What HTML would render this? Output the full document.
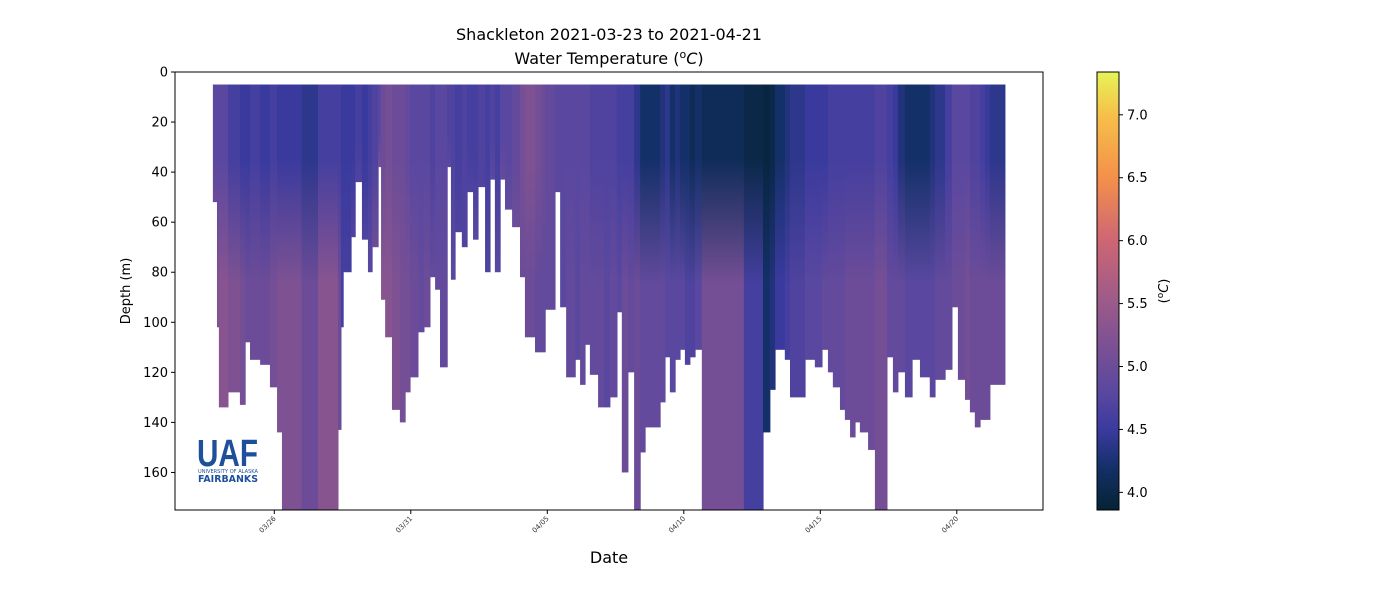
<!DOCTYPE html>
<html><head><meta charset="utf-8"><style>
body{margin:0;background:#fff;}
svg{display:block;font-family:"DejaVu Sans","Liberation Sans",sans-serif;}
</style></head><body>
<svg id="chart" width="1400" height="600" viewBox="0 0 1400 600">
<defs id="defs"></defs>
<text x="609" y="40" font-size="16" text-anchor="middle">Shackleton 2021-03-23 to 2021-04-21</text>
<text x="609" y="64" font-size="16" text-anchor="middle">Water Temperature (<tspan font-size="11" dy="-6">o</tspan><tspan dy="6" font-style="italic">C</tspan>)</text>
<g id="plot"></g>
<g id="logo">
<text x="197" y="466" font-size="38" font-weight="bold" fill="#1d4f9a" font-family="Liberation Sans, sans-serif" textLength="61" lengthAdjust="spacingAndGlyphs">UAF</text>
<text x="198" y="473" font-size="5" fill="#1d4f9a" textLength="60" lengthAdjust="spacingAndGlyphs">UNIVERSITY OF ALASKA</text>
<text x="198" y="482" font-size="10" font-weight="bold" fill="#1d4f9a" textLength="60" lengthAdjust="spacingAndGlyphs">FAIRBANKS</text>
</g>
<rect x="175" y="72" width="868" height="438" fill="none" stroke="#000" stroke-width="1"/>
<g id="axes"></g>
<text x="609" y="563" font-size="16" text-anchor="middle">Date</text>
<text transform="translate(130,291) rotate(-90)" font-size="13" text-anchor="middle">Depth (m)</text>
<g id="cbar"></g>
<text transform="translate(1168,291) rotate(-90)" font-size="13" text-anchor="middle">(<tspan font-size="9" dy="-5">o</tspan><tspan dy="5" font-style="italic">C</tspan>)</text>
</svg>
<script>
// days since 03/26 (segment start), max depth (m), temp near surface, temp at depth
const profileDay=[-2.25,-2.10,-2.03,-1.70,-1.26,-1.07,-0.89,-0.52,-0.16,0.10,0.28,1.00,1.60,2.33,2.44,2.52,2.81,2.96,3.21,3.43,3.58,3.80,3.91,4.06,4.31,4.60,4.79,4.97,5.26,5.48,5.70,5.89,6.07,6.33,6.47,6.62,6.87,7.06,7.28,7.46,7.72,7.90,8.08,8.27,8.45,8.71,9.00,9.18,9.55,9.77,9.92,10.28,10.47,10.69,11.02,11.20,11.38,11.56,11.86,12.08,12.29,12.55,12.73,12.95,13.18,13.40,13.58,14.13,14.31,14.49,14.68,14.86,15.04,15.22,15.41,15.66,16.50,17.20,17.90,18.15,18.34,18.70,18.89,19.18,19.44,19.80,20.06,20.28,20.46,20.72,20.90,21.09,21.27,21.45,21.75,22.00,22.44,22.66,22.84,23.10,23.36,23.65,24.01,24.20,24.57,24.82,25.04,25.30,25.48,25.66,25.85,26.03,26.21];
const lastDay=26.76;
const maxDepth=[52,102,134,128,133,108,115,117,126,144,175,175,175,143,102,80,66,44,67,80,70,38,91,106,135,140,128,122,104,102,82,87,118,38,83,64,70,48,67,46,80,43,80,43,55,62,82,106,112,112,95,48,94,122,115,125,109,121,134,134,130,96,160,120,175,152,142,132,114,128,115,111,117,114,111,175,175,175,144,127,111,115,130,130,115,118,111,120,126,135,139,146,140,144,151,175,114,128,120,130,115,122,130,123,119,94,123,131,136,142,139,139,125];
const tempTop=[4.8,4.8,4.8,4.6,4.5,4.5,4.6,4.5,4.6,4.5,4.5,4.4,4.6,4.6,4.5,4.5,4.5,4.6,4.5,4.6,4.7,4.8,5.0,5.1,5.0,5.0,4.9,4.8,4.8,4.8,4.7,4.8,4.8,4.7,4.7,4.6,4.7,4.6,4.6,4.7,4.6,4.7,4.6,4.8,4.8,4.9,5.1,5.2,5.1,5.0,4.9,4.8,4.8,4.8,4.8,4.8,4.8,4.7,4.7,4.7,4.7,4.6,4.6,4.6,4.4,4.2,4.2,4.3,4.4,4.2,4.3,4.2,4.2,4.1,4.2,4.1,4.1,4.0,3.95,4.0,4.2,4.3,4.4,4.4,4.5,4.5,4.5,4.6,4.6,4.6,4.6,4.6,4.6,4.6,4.6,4.7,4.6,4.5,4.3,4.2,4.2,4.2,4.3,4.4,4.6,4.8,4.8,4.8,4.7,4.7,4.6,4.5,4.4];
const tempBottom=[5.0,5.2,5.3,5.2,5.1,5.0,5.0,5.0,5.1,5.2,5.2,5.0,5.3,5.0,4.6,4.6,4.7,4.7,4.7,4.8,5.0,5.1,5.3,5.3,5.2,5.1,5.1,5.0,4.9,5.0,4.9,4.9,4.9,4.8,4.8,4.7,4.7,4.7,4.8,4.7,4.7,4.8,4.8,4.9,4.9,5.0,5.0,5.0,4.9,4.9,4.9,4.8,4.8,4.9,4.8,4.9,4.9,4.9,4.9,4.8,4.9,4.8,5.0,4.9,5.0,4.9,4.9,4.9,4.8,4.8,4.8,4.8,4.7,4.7,4.8,5.1,5.1,4.6,4.2,4.3,4.5,4.6,4.7,4.7,4.8,4.8,4.9,4.9,4.9,4.9,5.0,5.0,5.0,5.0,5.0,5.1,4.9,4.9,4.9,4.8,4.8,4.8,4.8,4.9,4.9,5.0,5.0,5.1,5.0,5.0,5.0,5.0,5.0];
const yTicks=[0,20,40,60,80,100,120,140,160];
const xTickDays=[0,5,10,15,20,25];
const xTickLabels=["03/26","03/31","04/05","04/10","04/15","04/20"];
const cbTicks=[4.0,4.5,5.0,5.5,6.0,6.5,7.0];

const NS="http://www.w3.org/2000/svg";
const X0=175,X1=1043,Y0=72,Y1=510;
const xs=d=>274.3+27.3*d;
const ys=m=>Y0+(m/175)*(Y1-Y0);
const cbMin=3.86,cbMax=7.34;
const cbY=t=>510-(t-cbMin)/(cbMax-cbMin)*438;
const stops=[[3.86,[4,35,51]],[4.2,[20,48,105]],[4.5,[58,58,158]],[4.8,[90,72,160]],[5.0,[108,76,152]],[5.5,[154,90,138]],[6.0,[205,102,116]],[6.5,[244,144,74]],[7.0,[246,192,74]],[7.34,[230,244,87]]];
function color(t){
  if(t<=stops[0][0])return rgb(stops[0][1]);
  for(let i=1;i<stops.length;i++){if(t<=stops[i][0]){const a=stops[i-1],b=stops[i],f=(t-a[0])/(b[0]-a[0]);return rgb(a[1].map((v,k)=>v+(b[1][k]-v)*f));}}
  return rgb(stops[stops.length-1][1]);
}
function rgb(c){return `rgb(${c.map(Math.round).join(',')})`;}
function mk(tag,attrs,parent){const e=document.createElementNS(NS,tag);for(const k in attrs)e.setAttribute(k,attrs[k]);parent.appendChild(e);return e;}

const defs=document.getElementById('defs');
const plot=document.getElementById('plot');
for(let i=0;i<profileDay.length;i++){
  const xa=xs(profileDay[i]);
  const xb=xs(i+1<profileDay.length?profileDay[i+1]:lastDay);
  const yt=ys(5),yb=ys(maxDepth[i]);
  const h=yb-yt;
  const o1=Math.min(0.6,Math.max(0,(ys(35)-yt)/h));
  const o2=Math.min(1,Math.max(o1+0.05,(ys(85)-yt)/h));
  const g=mk('linearGradient',{id:'g'+i,gradientUnits:'userSpaceOnUse',x1:0,y1:yt,x2:0,y2:yb},defs);
  mk('stop',{offset:0,'stop-color':color(tempTop[i])},g);
  mk('stop',{offset:o1,'stop-color':color(tempTop[i])},g);
  mk('stop',{offset:o2,'stop-color':color(tempBottom[i])},g);
  mk('stop',{offset:1,'stop-color':color(tempBottom[i])},g);
  const r=mk('rect',{x:xa,y:yt,width:Math.max(1,xb-xa+0.6),height:h,fill:`url(#g${i})`},plot);
  
  
}

const axes=document.getElementById('axes');
yTicks.forEach(v=>{
  const y=ys(v);
  const l=mk('line',{x1:X0-4,x2:X0,y1:y,y2:y,stroke:'#000'},axes);
  
  
  const t=mk('text',{x:X0-7,y:y+4.5,'font-size':13,'text-anchor':'end'},axes);
  t.textContent=v;
  
  
});
xTickDays.forEach((d,i)=>{
  const x=xs(d);
  const l=mk('line',{x1:x,x2:x,y1:Y1,y2:Y1+4,stroke:'#000'},axes);
  
  
  const t=mk('text',{transform:`translate(${x+2},${Y1+9}) rotate(-45)`,'font-size':7,'text-anchor':'end',fill:'#333'},axes);
  t.textContent=xTickLabels[i];
  
  
});

const cb=document.getElementById('cbar');
for(let y=72;y<510;y++){
  const t=cbMax-(y-72+0.5)/438*(cbMax-cbMin);
  mk('rect',{x:1097,y:y,width:22,height:1.2,fill:color(t)},cb);
}
mk('rect',{x:1097,y:72,width:22,height:438,fill:'none',stroke:'#000'},cb);
cbTicks.forEach(v=>{
  const y=cbY(v);
  const l=mk('line',{x1:1119,x2:1123,y1:y,y2:y,stroke:'#000'},cb);
  
  
  const t=mk('text',{x:1127,y:y+4.5,'font-size':13},cb);
  t.textContent=v.toFixed(1);
  
  
});
</script>
</body></html>
